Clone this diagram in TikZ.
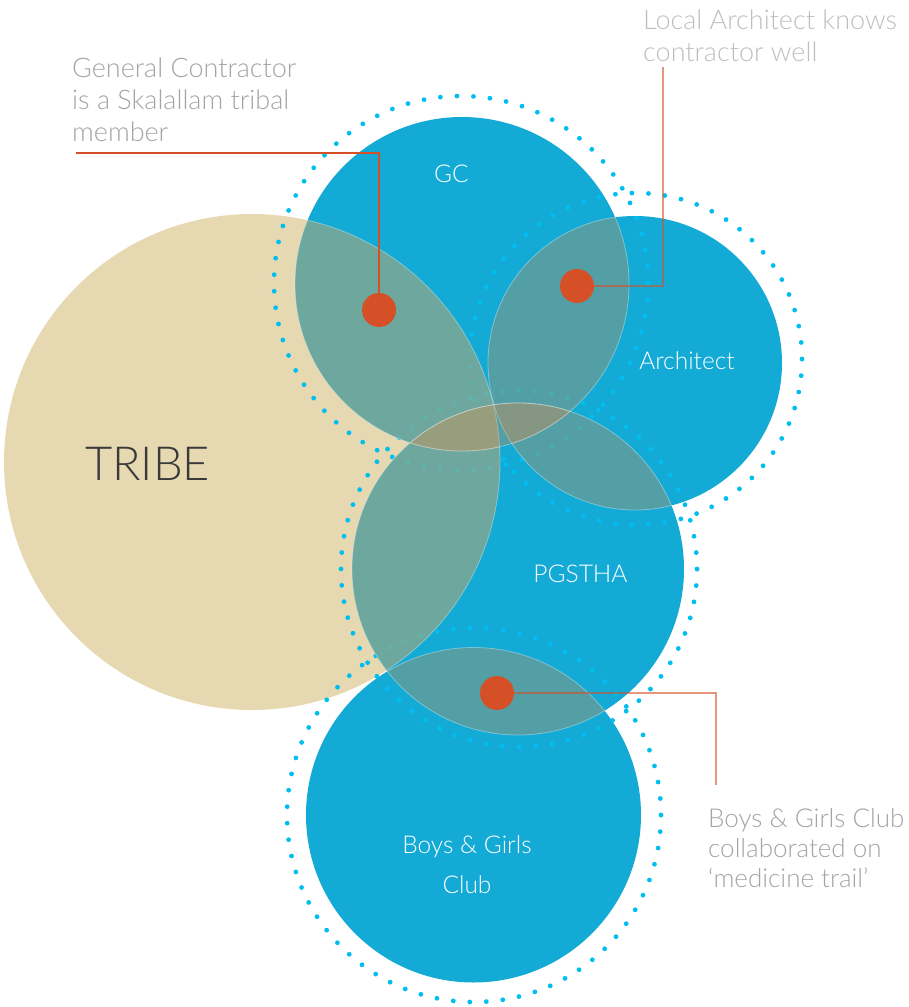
\documentclass[tikz,border=0pt]{standalone}
\usepackage{fontspec}
\setmainfont{Lato}[UprightFont=* Light]
\definecolor{tribetan}{RGB}{230,217,178}
\definecolor{hubblue}{RGB}{19,170,213}
\definecolor{ringcyan}{RGB}{0,190,240}
\definecolor{lensgrey}{RGB}{150,150,120}
\definecolor{lenstan}{RGB}{200,165,105}
\definecolor{markred}{RGB}{213,80,38}
\definecolor{notegrey}{RGB}{163,163,168}
\definecolor{notelight}{RGB}{190,190,193}
\definecolor{tribetext}{RGB}{58,58,58}

% shaded overlap of two circles: centre A, radius A, centre B, radius B, fill style
\newcommand\overlaplens[5]{%
  \begin{scope}\clip (#1) circle[radius=#2pt]; \fill[#5] (#3) circle[radius=#4pt];\end{scope}
  \begin{scope}\clip (#1) circle[radius=#2pt]; \draw[lensedge] (#3) circle[radius=#4pt];\end{scope}
  \begin{scope}\clip (#3) circle[radius=#4pt]; \draw[lensedge] (#1) circle[radius=#2pt];\end{scope}}

\begin{document}
\begin{tikzpicture}[x=1pt,y=-1pt,
  tribedisc/.style={circle, fill=tribetan, inner sep=0pt},
  hub/.style={circle, fill=hubblue, inner sep=0pt},
  ring/.style={draw=ringcyan, line width=4.8pt, line cap=round, dash pattern=on 0pt off #1},
  lensblue/.style={fill=lensgrey, fill opacity=0.5},
  lenstribe/.style={fill=lenstan, fill opacity=0.5},
  lensedge/.style={draw=white, draw opacity=0.35, line width=0.8pt},
  marker/.style={circle, fill=markred, inner sep=0pt, minimum size=34pt},
  leader/.style={draw=markred, line width=1.2pt},
  note/.style={text=notegrey, font=\fontsize{27}{32}\selectfont, align=left, inner sep=0pt, anchor=base west},
  hublabel/.style={text=white, font=\fontsize{24.5}{40}\selectfont, inner sep=0pt, anchor=base, align=center}]
\useasboundingbox (0,0) rectangle (909,1007);

% the five discs
\node[tribedisc, minimum size=496pt] (tribe) at (252,462) {};
\node[hub, minimum size=334pt] (gc) at (462,284) {};
\node[hub, minimum size=294pt] (arch) at (635,363) {};
\node[hub, minimum size=332pt] (pg) at (518,569) {};
\node[hub, minimum size=335pt] (bgc) at (473.5,815) {};

% dotted rings
\draw[ring=16.549pt] (461,283) circle[radius=187pt];
\draw[ring=16.556pt] (636,359) circle[radius=166pt];
\draw[ring=16.447pt] (519,569) circle[radius=178pt];
\draw[ring=16.549pt] (474,815) circle[radius=187pt];

% overlaps
\overlaplens{tribe.center}{248}{gc.center}{167}{lenstribe}
\overlaplens{tribe.center}{248}{pg.center}{166}{lenstribe}
\overlaplens{gc.center}{167}{arch.center}{147}{lensblue}
\overlaplens{arch.center}{147}{pg.center}{166}{lensblue}
\overlaplens{gc.center}{167}{pg.center}{166}{lensblue}
\overlaplens{pg.center}{166}{bgc.center}{167.5}{lensblue}

% disc labels
\node[text=tribetext, font=\fontsize{47}{47}\selectfont, inner sep=0pt, anchor=base] (tribelabel) at (147.5,480) {TRIBE};
\node[hublabel] (gclabel) at (451.5,182) {GC};
\node[hublabel] (archlabel) at (687,369) {Architect};
\node[hublabel] (pglabel) at (580.5,582) {PGSTHA};
\node[hublabel] (bgclabel) at (467,893) {Boys \& Girls\\Club};

% markers and leaders
\node[marker] (dotgc) at (379,310) {};
\node[marker] (dotarch) at (577,286) {};
\node[marker] (dotbgc) at (497,693) {};
\coordinate (gcbend) at (379,153);
\coordinate (gcend) at (76,153);
\coordinate (archbend) at (663,286);
\coordinate (archend) at (663,67);
\coordinate (bgcbend) at (716,693);
\coordinate (bgcend) at (716,785);
\draw[leader] (dotgc) -- (gcbend) -- (gcend);
\draw[leader, draw opacity=0.6] (dotarch) -- (archbend) -- (archend);
\draw[leader, draw opacity=0.6] (dotbgc) -- (bgcbend) -- (bgcend);

% notes
\node[note] (gcnote) at (72,141) {General Contractor\\is a Skalallam tribal\\member};
\node[note, text=notelight] (archnote) at (643,61) {Local Architect knows\\contractor well};
\node[note, font=\fontsize{26}{30}\selectfont] (bgcnote) at (708,887) {Boys \& Girls Club\\collaborated on\\‘medicine trail’};
\end{tikzpicture}
\end{document}
